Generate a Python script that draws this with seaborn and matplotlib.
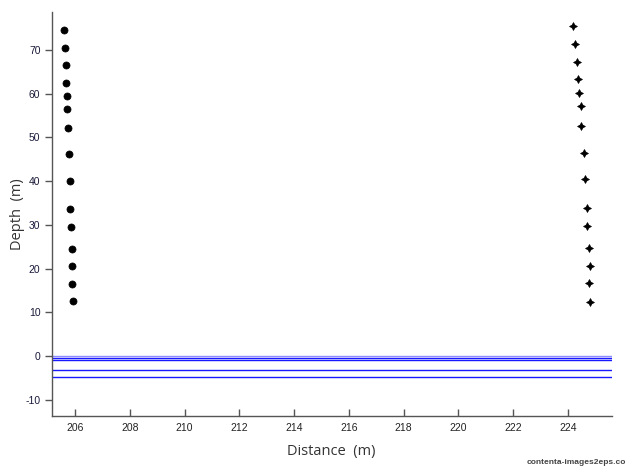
import matplotlib
matplotlib.use("Agg")
import matplotlib.pyplot as plt
import seaborn as sns
import pandas as pd

# Left profile (filled dots)
left_dist = [205.59, 205.62, 205.66, 205.67, 205.69, 205.71, 205.74, 205.78,
             205.80, 205.83, 205.85, 205.88, 205.90, 205.90, 205.94]
left_depth = [74.5, 70.5, 66.5, 62.5, 59.5, 56.5, 52.2, 46.1,
              40.1, 33.6, 29.6, 24.5, 20.6, 16.5, 12.5]

# Right profile (stars)
right_dist = [224.20, 224.26, 224.33, 224.38, 224.41, 224.47, 224.49, 224.60,
              224.64, 224.70, 224.70, 224.76, 224.79, 224.76, 224.79]
right_depth = [75.5, 71.4, 67.3, 63.4, 60.1, 57.1, 52.6, 46.5,
               40.4, 33.8, 29.7, 24.7, 20.5, 16.6, 12.4]

# Horizontal reference levels (blue lines)
levels = [0.05, -0.45, -0.98, -3.25, -4.85]
level_alpha = [0.45, 0.9, 0.9, 0.9, 0.9]

xticks = [206, 208, 210, 212, 214, 216, 218, 220, 222, 224]
yticks = [-10, 0, 10, 20, 30, 40, 50, 60, 70]

sns.set_style("white")
plt.rcParams['font.family'] = ['Liberation Sans', 'DejaVu Sans']

fig = plt.figure(figsize=(6.29, 4.70), dpi=100)
ax = fig.add_axes([0.082, 0.115, 0.8905, 0.86])

df_l = pd.DataFrame({"x": left_dist, "y": left_depth})
df_r = pd.DataFrame({"x": right_dist, "y": right_depth})

for lv, a in zip(levels, level_alpha):
    ax.axhline(lv, color="#0000ff", lw=1.0, alpha=a, zorder=1)

sns.scatterplot(data=df_l, x="x", y="y", ax=ax, marker="o", s=26,
                color="black", edgecolor="black", linewidth=0.5, zorder=3)
sns.scatterplot(data=df_r, x="x", y="y", ax=ax, marker=(4, 1, 0), s=32,
                color="black", edgecolor="black", linewidth=0.5, zorder=3)

ax.set_xlim(205.14, 225.6)
ax.set_ylim(-13.7, 78.7)
ax.set_xticks(xticks)
ax.set_yticks(yticks)
ax.set_xticklabels([str(t) for t in xticks])
ax.set_yticklabels([str(t) for t in yticks])

for side in ["top", "right"]:
    ax.spines[side].set_visible(False)
for side in ["left", "bottom"]:
    ax.spines[side].set_color("#555555")
    ax.spines[side].set_linewidth(1.0)

ax.tick_params(axis="x", direction="in", length=5, width=1, color="#555555",
               labelsize=7.5, labelcolor="#222222", pad=5)
ax.tick_params(axis="y", direction="out", length=5, width=1, color="#555555",
               labelsize=7.5, labelcolor="#1a1a3a", pad=3, left=True)
ax.tick_params(axis="x", bottom=True)

ax.set_xlabel("Distance  (m)", fontsize=10.5, color="#333333",
              family=["Open Sans", "DejaVu Sans"], labelpad=8)
ax.set_ylabel("Depth  (m)", fontsize=10.5, color="#333333",
              family=["Open Sans", "DejaVu Sans"], labelpad=0)

fig.text(0.995, 0.008, "contenta-images2eps.co", ha="right", va="bottom",
         fontsize=6, color="#444444", fontweight="bold")

fig.savefig("out.png", dpi=100)
